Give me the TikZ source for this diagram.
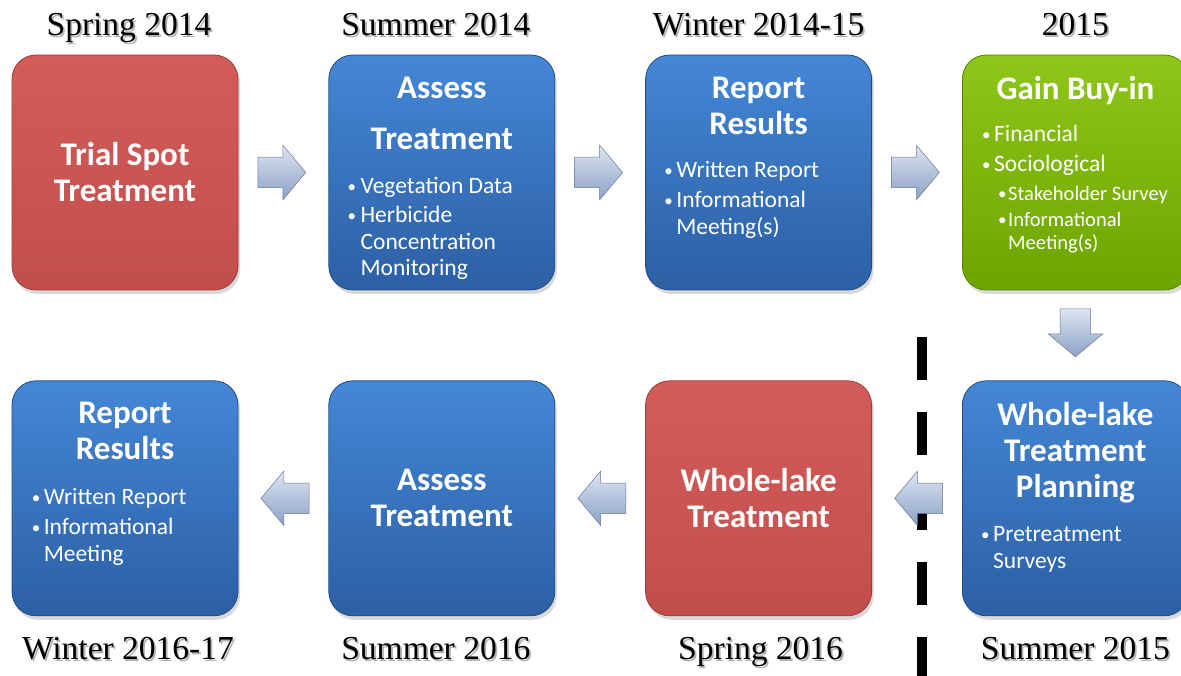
\documentclass[tikz,border=0pt]{standalone}
\usepackage{fontspec}
\setmainfont{Carlito}
\newfontfamily\datefont{Liberation Serif}
\usetikzlibrary{positioning,shapes.arrows,shadows}

\definecolor{redtop}{HTML}{D35C59}
\definecolor{redbot}{HTML}{C24E4B}
\definecolor{bluetop}{HTML}{4487D6}
\definecolor{bluebot}{HTML}{2D5FA4}
\definecolor{greentop}{HTML}{8EC61A}
\definecolor{greenbot}{HTML}{6EA400}
\definecolor{arrowtop}{HTML}{DDE5F2}
\definecolor{arrowbot}{HTML}{8BA1C6}

\newcommand{\bitem}[2][13pt]{\makebox[#1][l]{\fontsize{17}{17}\selectfont\raisebox{1pt}{\textbullet}}#2}
\newcommand{\bcont}[2][13pt]{\hspace*{#1}#2}
\newcommand{\shadowtext}[1]{\makebox[0pt][l]{\hspace{1.8pt}\raisebox{-1.8pt}{\textcolor{black!30}{#1}}}#1}

\begin{document}
\begin{tikzpicture}[x=1pt,y=-1pt,node distance=90pt,
  box/.style={rounded corners=24pt,minimum width=226pt,minimum height=235pt,inner sep=0pt,
    line width=0.8pt,drop shadow={shadow xshift=2pt,shadow yshift=-4pt,opacity=0.3}},
  redbox/.style={box,draw=redbot!80!black,top color=redtop,bottom color=redbot},
  bluebox/.style={box,draw=bluebot!80!black,top color=bluetop,bottom color=bluebot},
  greenbox/.style={box,draw=greenbot!80!black,top color=greentop,bottom color=greenbot},
  title/.style={text=white,font=\bfseries\fontsize{33}{36}\selectfont,align=center,inner sep=0pt},
  bullets/.style={text=white,font=\fontsize{23.5}{26.5}\selectfont,align=left,anchor=north west,inner sep=0pt},
  date/.style={font=\datefont\fontsize{33.5}{36}\selectfont,inner sep=0pt,anchor=base},
  flow/.style={single arrow,minimum height=48pt,single arrow head extend=12pt,
    single arrow tip angle=100,inner sep=15pt,draw=arrowbot!75!black,line width=0.5pt,
    top color=arrowtop,bottom color=arrowbot},
  eastflow/.style={flow,xshift=-8pt},
  westflow/.style={flow,shape border rotate=180,xshift=8pt},
  southflow/.style={flow,shape border rotate=270,yshift=9pt},
  divider/.style={line width=10pt,dash pattern=on 43pt off 32pt}
]
\useasboundingbox (0,0) rectangle (1181,676);

% dividing line between the planning and the treatment stages
\coordinate (cuttop) at (922,337);
\coordinate (cutbot) at (922,680);
\draw[divider] (cuttop) -- (cutbot);

% top row
\node[redbox]   (trial)   at (125,172.5)   {};
\node[bluebox]  (assess1) [right=of trial]   {};
\node[bluebox]  (report1) [right=of assess1] {};
\node[greenbox] (buyin)   [right=of report1] {};

% bottom row
\node[bluebox]  (plan)    [below=of buyin]   {};
\node[redbox]   (whole)   [left=of plan]     {};
\node[bluebox]  (assess2) [left=of whole]    {};
\node[bluebox]  (report2) [left=of assess2]  {};

% box texts
\node[title] (trialtitle) at (trial) {Trial Spot\\Treatment};

\node[title,anchor=north] (assess1title) at ([yshift=-22pt]assess1.north) {Assess\\[15pt]Treatment};
\node[bullets] (assess1list) at ([xshift=19pt,yshift=-122pt]assess1.north west)
  {\bitem{Vegetation Data}\\[3pt]\bitem{Herbicide}\\\bcont{Concentration}\\\bcont{Monitoring}};

\node[title,anchor=north] (report1title) at ([yshift=-22pt]report1.north) {Report\\Results};
\node[bullets] (report1list) at ([xshift=19pt,yshift=-107pt]report1.north west)
  {\bitem[12pt]{Written Report}\\[3.5pt]\bitem[12pt]{Informational}\\\bcont[12pt]{Meeting(s)}};

\node[title,anchor=north] (buyintitle) at ([yshift=-22pt]buyin.north) {Gain Buy-in};
\node[bullets] (buyinlist) at ([xshift=20pt,yshift=-70pt]buyin.north west)
  {\bitem[12pt]{Financial}\\[3.5pt]\bitem[12pt]{Sociological}\\[2.5pt]
   {\fontsize{20.5}{23}\selectfont\hspace*{16pt}\bitem[10pt]{Stakeholder Survey}}\\
   {\fontsize{20.5}{23}\selectfont\hspace*{16pt}\bitem[10pt]{Informational}}\\[-4pt]
   {\fontsize{20.5}{23}\selectfont\bcont[26pt]{Meeting(s)}}};

\node[title,anchor=north] (plantitle) at ([yshift=-22pt]plan.north) {Whole-lake\\Treatment\\Planning};
\node[bullets] (planlist) at ([xshift=19pt,yshift=-146pt]plan.north west)
  {\bitem[12pt]{Pretreatment}\\\bcont[12pt]{Surveys}};

\node[title] (wholetitle) at (whole) {Whole-lake\\Treatment};
\node[title] (assess2title) at (assess2) {Assess\\Treatment};

\node[title,anchor=north] (report2title) at ([yshift=-22pt]report2.north) {Report\\Results};
\node[bullets] (report2list) at ([xshift=20pt,yshift=-108pt]report2.north west)
  {\bitem[12pt]{Written Report}\\[3.5pt]\bitem[12pt]{Informational}\\\bcont[12pt]{Meeting}};

% dates
\node[date] (spring14) at ([xshift=4pt,yshift=19pt]trial.north)   {\shadowtext{Spring 2014}};
\node[date] (summer14) at ([xshift=-6pt,yshift=19pt]assess1.north) {\shadowtext{Summer 2014}};
\node[date] (winter14) at ([yshift=19pt]report1.north) {\shadowtext{Winter 2014-15}};
\node[date] (year15)   at ([yshift=19pt]buyin.north)   {\shadowtext{2015}};
\node[date] (summer15) at ([yshift=-43pt]plan.south)   {\shadowtext{Summer 2015}};
\node[date] (spring16) at ([xshift=2pt,yshift=-43pt]whole.south)   {\shadowtext{Spring 2016}};
\node[date] (summer16) at ([xshift=-6pt,yshift=-43pt]assess2.south) {\shadowtext{Summer 2016}};
\node[date] (winter16) at ([xshift=3pt,yshift=-43pt]report2.south) {\shadowtext{Winter 2016-17}};

% flow arrows
\path (trial)   -- node[eastflow] (a1) {} (assess1);
\path (assess1) -- node[eastflow] (a2) {} (report1);
\path (report1) -- node[eastflow] (a3) {} (buyin);
\path (buyin)   -- node[southflow] (a4) {} (plan);
\path (plan)    -- node[westflow] (a5) {} (whole);
\path (whole)   -- node[westflow] (a6) {} (assess2);
\path (assess2) -- node[westflow] (a7) {} (report2);
\end{tikzpicture}
\end{document}
